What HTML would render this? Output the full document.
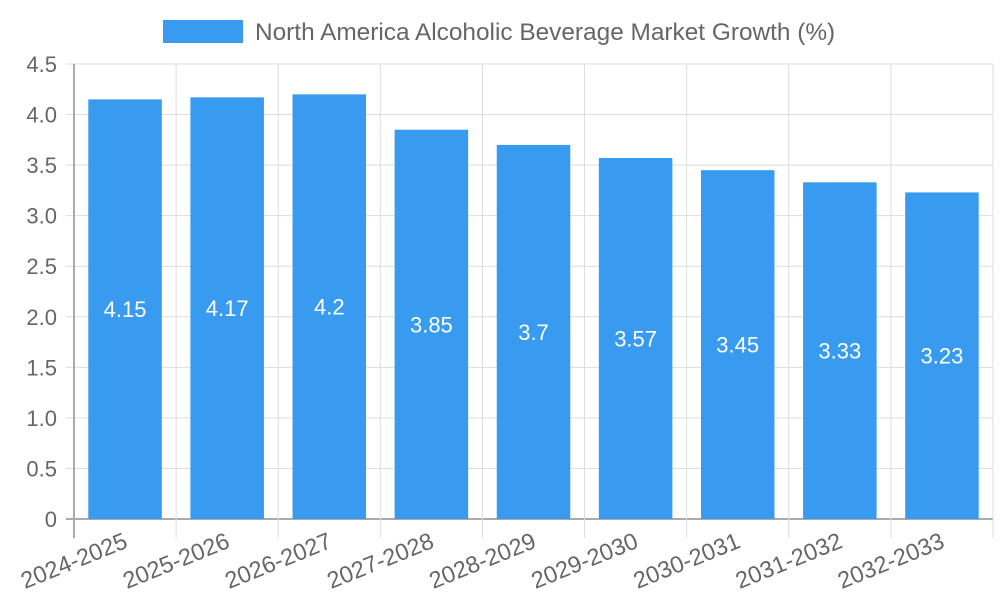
<!DOCTYPE html>
<html><head><meta charset="utf-8"><style>
body{margin:0;background:#fff;}
svg{display:block;font-family:"Liberation Sans",Arial,sans-serif;}
</style></head><body>
<svg id="chart" width="1000" height="600">
<g>
<rect x="163" y="20" width="80" height="23" fill="#389bef"></rect>
<text x="255" y="40" font-size="24.4" fill="#666">North America Alcoholic Beverage Market Growth (%)</text>
</g>
<g id="grid"></g><g id="bars"></g><g id="labels"></g>
</svg>
<script>
const categories=["2024-2025","2025-2026","2026-2027","2027-2028","2028-2029","2029-2030","2030-2031","2031-2032","2032-2033"];
const values=[4.15,4.17,4.2,3.85,3.7,3.57,3.45,3.33,3.23];
const yTicks=[0,0.5,1.0,1.5,2.0,2.5,3.0,3.5,4.0,4.5];
const yTickLabels=["0","0.5","1.0","1.5","2.0","2.5","3.0","3.5","4.0","4.5"];
const L=74,R=993,T=64,B=519,yMax=4.5;
const ns="http://www.w3.org/2000/svg";
const bw=(R-L)/categories.length;
const y=v=>B-(v/yMax)*(B-T);
const x=i=>L+i*bw;
function mk(tag,attrs,parent,text){const e=document.createElementNS(ns,tag);for(const k in attrs)e.setAttribute(k,attrs[k]);if(text!==undefined)e.textContent=text;parent.appendChild(e);return e;}
const grid=document.getElementById('grid'),bars=document.getElementById('bars'),labels=document.getElementById('labels');
yTicks.forEach((t,i)=>{
 const ln=mk('line',{x1:66,x2:R,y1:y(t),y2:y(t),stroke:i===0?'#aaa':'#ddd','stroke-width':i===0?2:1},grid);
 
 
 const tx=mk('text',{x:57,y:y(t)+8,'text-anchor':'end','font-size':22,fill:'#666'},labels,yTickLabels[i]);
 
 
});
for(let i=0;i<=categories.length;i++){
 const ln=mk('line',{x1:x(i),x2:x(i),y1:T,y2:538,stroke:i===0?'#aaa':'#ddd','stroke-width':i===0?2:1},grid);
 
 
}
categories.forEach((c,i)=>{
 const w=bw*0.72,cx=x(i)+bw/2;
 const r=mk('rect',{x:cx-w/2,y:y(values[i]),width:w,height:B-y(values[i]),fill:'#389bef'},bars);
 
 
 const v=mk('text',{x:cx,y:(y(values[i])+B)/2+8,'text-anchor':'middle','font-size':22,fill:'#fff'},labels,String(values[i]));
 
 
 const lx=cx+4,ly=547;
 const t=mk('text',{x:lx,y:ly,'text-anchor':'end','font-size':23.5,fill:'#666',transform:`rotate(-22 ${lx} ${ly})`},labels,c);
 
 
});
</script>
</body></html>
